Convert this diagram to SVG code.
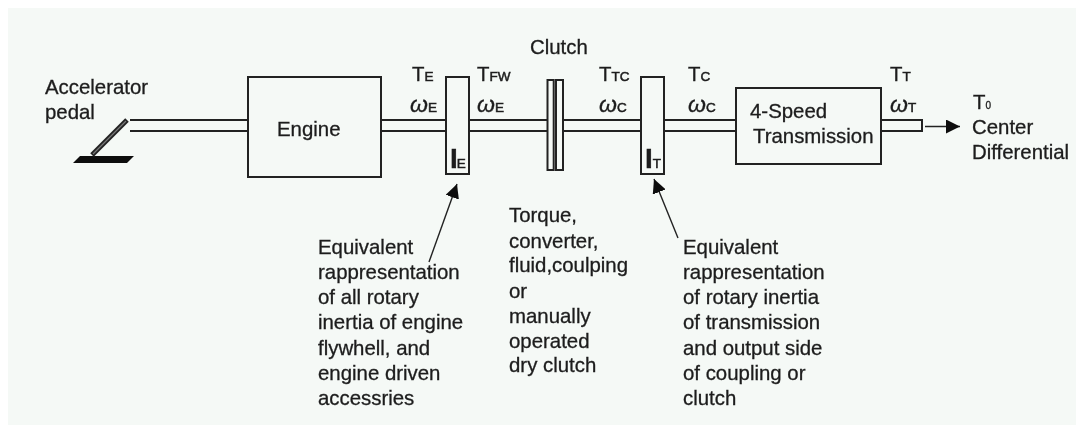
<svg xmlns="http://www.w3.org/2000/svg" width="1076" height="425" viewBox="0 0 1076 425">
<style>
text{font-family:"Liberation Sans",Arial,sans-serif;font-size:20.4px;fill:#1c1c1c;stroke:#1c1c1c;stroke-width:.3}
.sub{font-size:13.5px;stroke-width:.5}
.w{font-style:italic;font-size:23px}
.box{fill:none;stroke:#222;stroke-width:2}
.sh{fill:none;stroke:#222;stroke-width:2}
.thin{fill:none;stroke:#222;stroke-width:1.4}
.big{font-size:28px;font-weight:bold}
</style>
<defs>
<marker id="ah" markerUnits="userSpaceOnUse" markerWidth="16" markerHeight="14" refX="14" refY="7" orient="auto"><path d="M0 0L14 7L0 14Z" fill="#111"/></marker>
<filter id="soft" x="-2%" y="-2%" width="104%" height="104%"><feGaussianBlur stdDeviation="0.35"/></filter>
</defs>
<rect width="1076" height="425" fill="#fff"/>
<rect x="8" y="8" width="1068" height="417" fill="#f5f9f6"/>
<g filter="url(#soft)">
<g id="connectors">
<path class="sh" d="M130 120H248M130 131H248M381 120H446M381 131H446M469 120H547M469 131H547M564 120H641M564 131H641M664 120H736M664 131H736"/>
<path class="thin" d="M925 126.500H960" marker-end="url(#ah)"/>
<path class="thin" d="M429 262L457 184" marker-end="url(#ah)"/>
<path class="thin" d="M678 238L654 179" marker-end="url(#ah)"/>
</g>
<g id="pedal">
<path d="M80 156H134L127 163H73Z" fill="#111"/>
<path d="M92 155L127 120" fill="none" stroke="#222" stroke-width="5"/>
<path d="M93 154L126 121" fill="none" stroke="#777" stroke-width="1.200"/>
<text x="45" y="94">Accelerator</text>
<text x="45" y="119">pedal</text>
</g>
<g id="engine"><rect class="box" x="248" y="77" width="133" height="100"/><text x="277" y="136">Engine</text></g>
<g id="inertia-e"><rect class="box" x="446" y="77" width="23" height="97"/><text x="450" y="168"><tspan class="big">I</tspan><tspan class="sub" dx="-1">E</tspan></text></g>
<g id="clutch"><rect class="box" x="547.500" y="80" width="6.200" height="90"/><rect class="box" x="556" y="80" width="7" height="90"/><text x="530" y="54">Clutch</text></g>
<g id="inertia-t"><rect class="box" x="641" y="77" width="23" height="97"/><text x="645" y="168"><tspan class="big">I</tspan><tspan class="sub">T</tspan></text></g>
<g id="transmission"><rect class="box" x="736" y="88" width="145" height="76"/><text x="750" y="118">4-Speed</text><text x="753" y="143">Transmission</text></g>
<g id="output-shaft"><path class="sh" d="M881 120H922V131H881"/></g>
<g id="labels">
<text x="412" y="81">T<tspan class="sub">E</tspan></text>
<text x="410" y="112"><tspan class="w">ω</tspan><tspan class="sub">E</tspan></text>
<text x="477" y="81">T<tspan class="sub">FW</tspan></text>
<text x="477" y="112"><tspan class="w">ω</tspan><tspan class="sub">E</tspan></text>
<text x="599" y="81">T<tspan class="sub">TC</tspan></text>
<text x="599" y="112"><tspan class="w">ω</tspan><tspan class="sub">C</tspan></text>
<text x="688" y="81">T<tspan class="sub">C</tspan></text>
<text x="688" y="112"><tspan class="w">ω</tspan><tspan class="sub">C</tspan></text>
<text x="890" y="81">T<tspan class="sub">T</tspan></text>
<text x="890" y="112"><tspan class="w">ω</tspan><tspan class="sub">T</tspan></text>
<text x="973" y="109">T<tspan style="font-size:10px">0</tspan></text>
<text x="972" y="134">Center</text>
<text x="972" y="159">Differential</text>
</g>
<g id="note-engine">
<text x="318" y="254">Equivalent</text><text x="318" y="279">rappresentation</text><text x="318" y="304">of all rotary</text><text x="318" y="329">inertia of engine</text><text x="318" y="355">flywhell, and</text><text x="318" y="380">engine driven</text><text x="318" y="405">accessries</text>
</g>
<g id="note-clutch">
<text x="509" y="222">Torque,</text><text x="509" y="248">converter,</text><text x="509" y="272">fluid,coulping</text><text x="509" y="298">or</text><text x="509" y="323">manually</text><text x="509" y="348">operated</text><text x="509" y="372">dry clutch</text>
</g>
<g id="note-transmission">
<text x="683" y="254">Equivalent</text><text x="683" y="279">rappresentation</text><text x="683" y="304">of rotary inertia</text><text x="683" y="329">of transmission</text><text x="683" y="355">and output side</text><text x="683" y="380">of coupling or</text><text x="683" y="405">clutch</text>
</g>
</g>
</svg>
